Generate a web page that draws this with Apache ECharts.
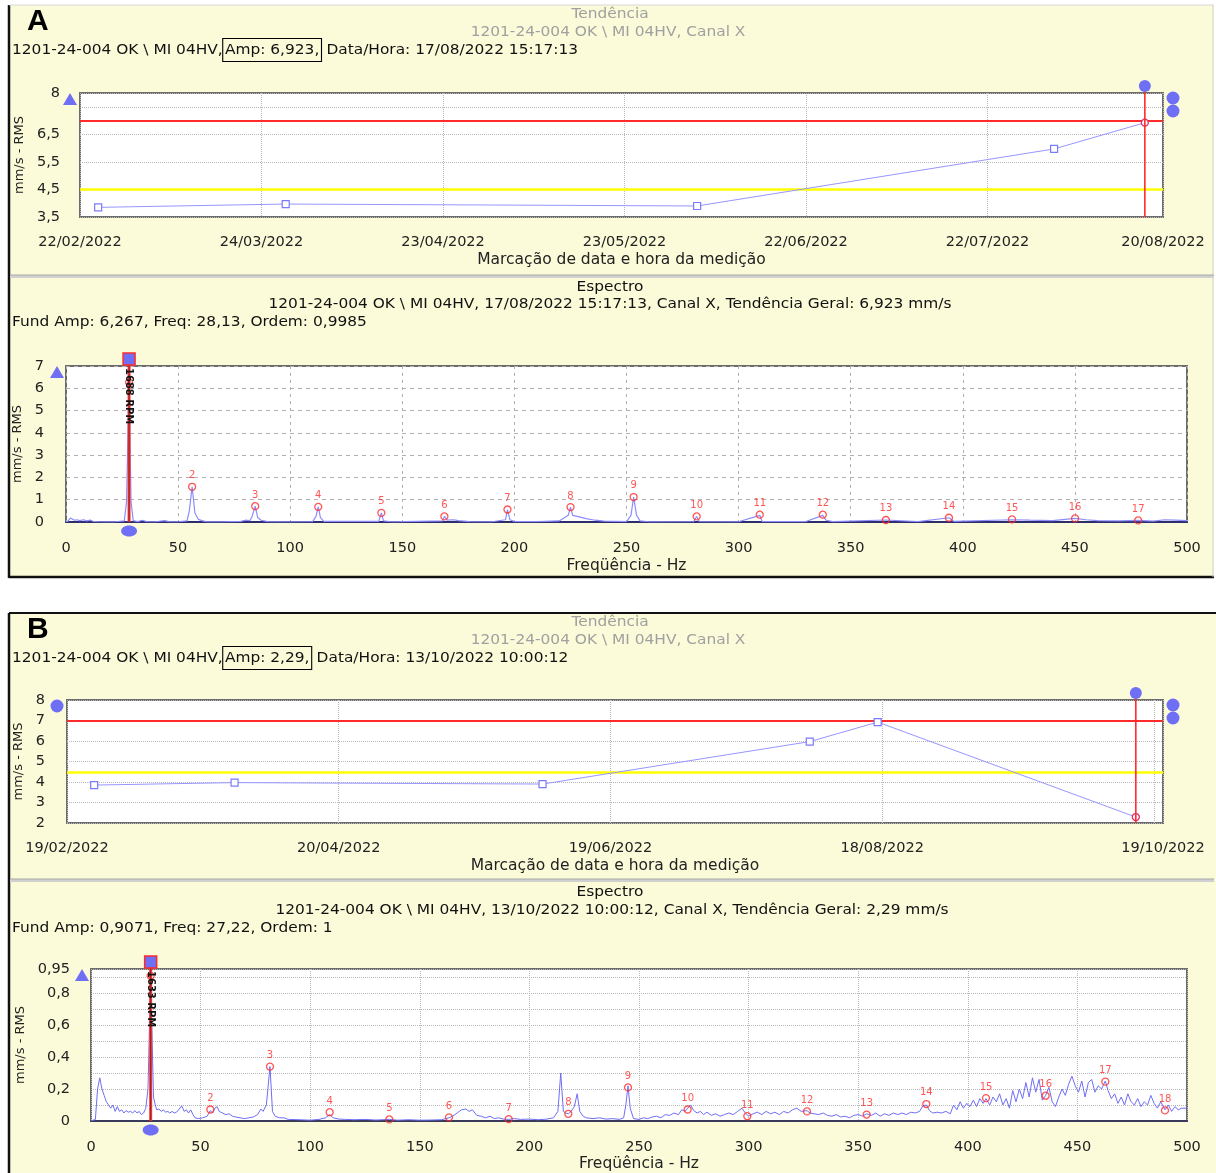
<!DOCTYPE html>
<html><head><meta charset="utf-8">
<script src="https://cdn.jsdelivr.net/npm/echarts@6/dist/echarts.min.js"></script>
<style>html,body{margin:0;padding:0;background:#fff}#main{width:1216px;height:1173px}</style>
</head><body><div id="main"></div><script>
// ================= DATA =================
const trendDates  = ['25/02/2022','28/03/2022','04/06/2022','02/08/2022','17/08/2022','13/10/2022'];
const trendValues = [3.85, 3.97, 3.90, 5.97, 6.923, 2.29];
const trendAxisA  = ['22/02/2022', '20/08/2022'];   // first / last date tick
const trendAxisB  = ['19/02/2022', '19/10/2022'];
const trendStepA  = 30;   // days between date ticks
const trendStepB  = 60;
const alarmLevel  = 7;
const alertLevel  = 4.5;

const fundFreqA = 28.13, fundAmpA = 6.267, rpmA = '1688 RPM';
const fundFreqB = 27.22, fundAmpB = 0.9071, rpmB = '1633 RPM';

const harmAFreq = [28.13,56.26,84.39,112.52,140.65,168.78,196.91,225.04,253.17,281.3,309.43,337.56,365.69,393.82,421.95,450.08,478.21];
const harmAAmp  = [6.267,1.58,0.71,0.68,0.41,0.25,0.56,0.67,1.12,0.25,0.33,0.33,0.09,0.19,0.12,0.16,0.07];

const harmBFreq = [27.22,54.44,81.66,108.88,136.1,163.32,190.54,217.76,244.98,272.2,299.42,326.64,353.86,381.08,408.3,435.52,462.74,489.96];
const harmBAmp  = [0.9071,0.072,0.34,0.055,0.01,0.023,0.012,0.045,0.21,0.072,0.03,0.06,0.04,0.106,0.143,0.158,0.246,0.066];

const specAFreq = [0,1,2,3,4,5,6,8,9,11,12,14,18,22,26,27,28.13,29,30,32,34,36,40,44,46,50,54,55,56.26,57.5,59,61,63,70,78,80,82,83,84.39,85.5,87,90,95,110,111.5,112.52,113.5,115,139.5,140.65,141.6,145,168,168.78,170,173,175,180,190,196,196.91,198,200,210,220,224,225.04,226,228,232,236,240,250,252,253.17,254.5,256,260,280,281.3,282.5,300,309.43,310.5,330,337.56,339,342,365.69,380,393.82,396,421.95,430,440,450.08,455,460,470,478.21,485,490,495,500];
const specAAmp  = [0,0.05,0.18,0.12,0.08,0.1,0.06,0.1,0.05,0.08,0.03,0.02,0.01,0.01,0.05,0.9,6.267,0.9,0.06,0.02,0.08,0.02,0.01,0.06,0.02,0.01,0.05,0.5,1.58,0.4,0.12,0.05,0.01,0.01,0.03,0.08,0.06,0.25,0.71,0.2,0.08,0.02,0.01,0.02,0.25,0.68,0.2,0.03,0.03,0.41,0.05,0.01,0.05,0.25,0.08,0.1,0.06,0.02,0.01,0.1,0.56,0.1,0.02,0.02,0.05,0.3,0.67,0.3,0.25,0.15,0.08,0.04,0.02,0.3,1.12,0.3,0.05,0.01,0.02,0.25,0.02,0.01,0.3,0.02,0.02,0.3,0.08,0.02,0.09,0.02,0.19,0.03,0.1,0.08,0.06,0.16,0.1,0.06,0.05,0.07,0.04,0.1,0.08,0.06];

const specBFreq = [0,2,3,4,5,6,7,8,9,10,11,12,13,14,15,16,17,18,19,20,21,22,23,24,25,26,27.22,28.5,29.5,30,31,32,33,34,35,36,37,38,39,40,41.4,42.5,43.5,44.5,45.5,46.5,47.5,49,51,53,54.44,55.5,56.5,57.5,58.5,60,61.5,63,64.5,66,68,70,72,74,76,77.5,78.5,80,81.66,82.8,84,86,88,90,95,100,104,107,108.88,110.5,113,116,120,125,130,136.1,140,145,150,155,160,163.32,165,167,169,171,172.5,174,176,178,180,182,184,186,188,190.54,193,196,200,204,208,211,213,214.3,215.5,216.5,217.76,219,220.5,221.8,223,224.5,226,229,232,235,238,241,243,244,244.98,246,247.5,250,252,254,256,258,260,262,264,266,268,269.5,271,272.2,273.5,275,276.5,278,279.5,281,283,285,287,289,291,293,295,297,298.5,300,302,304,306,308,310,312,314,316,318,320,322,324,326.64,328,330,332,334,336,338,340,342,344,346,348,350,352,353.86,356,358,360,362,364,366,368,370,372,374,376,378,379.5,381.08,382.5,384,386,388,390,392,393.5,395,396.5,398,399.5,401,402.5,404,405.5,407,408.3,410,411.5,413,414.5,416,417.5,419,420.5,422,423.5,425,426.5,428,429.5,431,432.5,434,435.52,437,438.5,440,441.5,443,444.5,446,447.5,449,450.5,452,453.5,455,456.5,458,459.5,461,462.74,464,465.5,467,468.5,470,471.5,473,474.5,476,477.5,479,480.5,482,483.5,485,486.5,488,489.96,491.5,493,494.5,496,497.5,500];
const specBAmp  = [0,0.01,0.2,0.27,0.2,0.16,0.12,0.1,0.08,0.1,0.06,0.09,0.06,0.07,0.05,0.065,0.055,0.06,0.05,0.065,0.05,0.06,0.04,0.05,0.08,0.2,0.9071,0.15,0.09,0.07,0.075,0.06,0.07,0.055,0.06,0.05,0.06,0.05,0.055,0.07,0.095,0.06,0.07,0.05,0.07,0.04,0.02,0.015,0.02,0.03,0.065,0.05,0.08,0.09,0.06,0.05,0.04,0.045,0.03,0.025,0.02,0.015,0.02,0.025,0.04,0.075,0.06,0.1,0.34,0.06,0.03,0.02,0.02,0.01,0.008,0.005,0.01,0.02,0.04,0.02,0.012,0.01,0.008,0.01,0.006,0.01,0.005,0.008,0.005,0.006,0.008,0.02,0.03,0.05,0.07,0.075,0.06,0.07,0.035,0.03,0.02,0.03,0.015,0.02,0.012,0.01,0.015,0.01,0.012,0.008,0.012,0.02,0.06,0.3,0.06,0.05,0.045,0.06,0.09,0.17,0.06,0.03,0.02,0.015,0.02,0.012,0.015,0.01,0.02,0.1,0.22,0.08,0.015,0.01,0.02,0.015,0.025,0.03,0.02,0.04,0.035,0.05,0.04,0.07,0.06,0.08,0.1,0.065,0.05,0.06,0.04,0.055,0.035,0.045,0.03,0.04,0.05,0.04,0.06,0.08,0.05,0.03,0.045,0.055,0.04,0.06,0.045,0.055,0.04,0.06,0.05,0.07,0.08,0.06,0.065,0.05,0.045,0.04,0.05,0.035,0.03,0.04,0.025,0.03,0.02,0.035,0.04,0.03,0.045,0.035,0.05,0.03,0.045,0.035,0.05,0.04,0.05,0.04,0.055,0.05,0.06,0.095,0.1,0.065,0.05,0.055,0.05,0.06,0.045,0.1,0.07,0.12,0.08,0.11,0.09,0.13,0.09,0.14,0.11,0.14,0.1,0.15,0.12,0.17,0.1,0.14,0.08,0.19,0.12,0.2,0.14,0.24,0.15,0.27,0.18,0.26,0.13,0.16,0.21,0.12,0.09,0.15,0.2,0.16,0.23,0.28,0.22,0.18,0.25,0.15,0.24,0.26,0.18,0.22,0.2,0.25,0.19,0.14,0.17,0.11,0.15,0.1,0.17,0.12,0.1,0.14,0.09,0.12,0.1,0.16,0.11,0.08,0.12,0.07,0.1,0.06,0.09,0.07,0.08,0.08];

// ================= HELPERS =================
const FONT = 'DejaVu Sans';
const toUTC = s => { const [d, m, y] = s.split('/').map(Number); return Date.UTC(y, m - 1, d); };
const dayOf = (s, b) => Math.round((toUTC(s) - toUTC(b)) / 86400000);
const pad = n => (n < 10 ? '0' : '') + n;
const dateLabel = (v, b) => { const t = new Date(toUTC(b) + v * 86400000); return pad(t.getUTCDate()) + '/' + pad(t.getUTCMonth() + 1) + '/' + t.getUTCFullYear(); };
const comma = v => String(v).replace('.', ',');
const pairs = (xs, ys) => xs.map((x, i) => [x, ys[i]]);

const nA = 5; // trend A shows the measurements up to 17/08/2022
const trendA = trendDates.slice(0, nA).map((d, i) => [dayOf(d, trendAxisA[0]), trendValues[i]]);
const trendB = trendDates.map((d, i) => [dayOf(d, trendAxisB[0]), trendValues[i]]);
const maxA = dayOf(trendAxisA[1], trendAxisA[0]);
const maxB = dayOf(trendAxisB[1], trendAxisB[0]);

const LINE_TREND = '#9696ff';
const LINE_SPEC = '#6e6ef6';
const RED = '#ff2b2b';
const labelStyle = { color: '#222', fontFamily: FONT, fontSize: 14.5 };
const nameStyle = { color: '#222', fontFamily: FONT, fontSize: 15.5 };

function trendPoint(p, i, last) {
  if (i === last) return { value: p, symbol: 'circle', symbolSize: 7, itemStyle: { color: '#fff', borderColor: '#e0306a', borderWidth: 1.3 } };
  return p;
}

const markLevels = {
  silent: true, symbol: 'none', label: { show: false }, animation: false,
  data: [
    { yAxis: alarmLevel, lineStyle: { color: RED, width: 2, type: 'solid' } },
    { yAxis: alertLevel, lineStyle: { color: '#ffff00', width: 2.5, type: 'solid' } }
  ]
};

const option = {
  animation: false,
  backgroundColor: '#ffffff',
  grid: [
    { left: 80, top: 93, width: 1083, height: 124, show: true, backgroundColor: '#fff', borderColor: '#6c6c6c', borderWidth: 2 },
    { left: 66, top: 366, width: 1121, height: 156, show: true, backgroundColor: '#fff', borderColor: '#6c6c6c', borderWidth: 2 },
    { left: 67, top: 700, width: 1096, height: 123, show: true, backgroundColor: '#fff', borderColor: '#6c6c6c', borderWidth: 2 },
    { left: 91, top: 969, width: 1096, height: 155, show: true, backgroundColor: '#fff', borderColor: '#6c6c6c', borderWidth: 2 }
  ],
  xAxis: [
    { gridIndex: 0, type: 'value', min: 0, max: maxA, interval: trendStepA,
      name: 'Marcação de data e hora da medição', nameLocation: 'middle', nameGap: 35, nameTextStyle: nameStyle,
      axisLine: { show: false }, axisTick: { show: false },
      axisLabel: Object.assign({ margin: 18, showMaxLabel: true, showMinLabel: true,
        formatter: v => (v < maxA && maxA - v < 15) ? '' : dateLabel(v, trendAxisA[0]) }, labelStyle),
      splitLine: { show: true, lineStyle: { color: '#b8b8b8', type: 'dotted', width: 1 } } },
    { gridIndex: 1, type: 'value', min: 0, max: 500, interval: 50,
      name: 'Freqüência - Hz', nameLocation: 'middle', nameGap: 36, nameTextStyle: nameStyle,
      axisLine: { show: true, onZero: false, lineStyle: { color: '#2e2e6e', width: 2 } }, axisTick: { show: false },
      axisLabel: Object.assign({ margin: 19 }, labelStyle),
      splitLine: { show: true, lineStyle: { color: '#b0b0b0', type: [3, 4], width: 1 } } },
    { gridIndex: 2, type: 'value', min: 0, max: maxB, interval: trendStepB,
      name: 'Marcação de data e hora da medição', nameLocation: 'middle', nameGap: 35, nameTextStyle: nameStyle,
      axisLine: { show: false }, axisTick: { show: false },
      axisLabel: Object.assign({ margin: 18, showMaxLabel: true, showMinLabel: true,
        formatter: v => (v < maxB && maxB - v < 20) ? '' : dateLabel(v, trendAxisB[0]) }, labelStyle),
      splitLine: { show: true, lineStyle: { color: '#b8b8b8', type: 'dotted', width: 1 } } },
    { gridIndex: 3, type: 'value', min: 0, max: 500, interval: 50,
      name: 'Freqüência - Hz', nameLocation: 'middle', nameGap: 35, nameTextStyle: nameStyle,
      axisLine: { show: true, onZero: false, lineStyle: { color: '#3a3a5a', width: 2 } }, axisTick: { show: false },
      axisLabel: Object.assign({ margin: 19 }, labelStyle),
      splitLine: { show: true, lineStyle: { color: '#b8b8b8', type: 'dotted', width: 1 } } }
  ],
  yAxis: [
    { gridIndex: 0, type: 'value', min: 3.5, max: 8, interval: 1,
      name: 'mm/s - RMS', nameLocation: 'middle', nameGap: 51, nameTextStyle: Object.assign({}, nameStyle, { fontSize: 13 }),
      axisLine: { show: false }, axisTick: { show: false },
      axisLabel: Object.assign({ margin: 20, showMaxLabel: true, formatter: v => (v < 8 && 8 - v < 0.6) ? '' : comma(v) }, labelStyle),
      splitLine: { show: true, lineStyle: { color: '#b8b8b8', type: 'dotted', width: 1 } } },
    { gridIndex: 1, type: 'value', min: 0, max: 7, interval: 1,
      name: 'mm/s - RMS', nameLocation: 'middle', nameGap: 37, nameTextStyle: Object.assign({}, nameStyle, { fontSize: 13 }),
      axisLine: { show: false }, axisTick: { show: false },
      axisLabel: Object.assign({ margin: 22, showMaxLabel: true }, labelStyle),
      splitLine: { show: true, lineStyle: { color: '#b0b0b0', type: [4, 4], width: 1 } } },
    { gridIndex: 2, type: 'value', min: 2, max: 8, interval: 1,
      name: 'mm/s - RMS', nameLocation: 'middle', nameGap: 37, nameTextStyle: Object.assign({}, nameStyle, { fontSize: 13 }),
      axisLine: { show: false }, axisTick: { show: false },
      axisLabel: Object.assign({ margin: 22, showMaxLabel: true }, labelStyle),
      splitLine: { show: true, lineStyle: { color: '#b8b8b8', type: 'dotted', width: 1 } } },
    { gridIndex: 3, type: 'value', min: 0, max: 0.95, interval: 0.1,
      name: 'mm/s - RMS', nameLocation: 'middle', nameGap: 60, nameTextStyle: Object.assign({}, nameStyle, { fontSize: 13 }),
      axisLine: { show: false }, axisTick: { show: false },
      axisLabel: Object.assign({ margin: 21, showMaxLabel: true,
        formatter: v => (v < 0.95 && Math.round(v * 10) % 2 === 1) ? '' : comma(+v.toFixed(2)) }, labelStyle),
      splitLine: { show: true, lineStyle: { color: '#b8b8b8', type: 'dotted', width: 1 } } }
  ],
  series: [
    { type: 'line', xAxisIndex: 0, yAxisIndex: 0, data: trendA.map((p, i) => trendPoint(p, i, trendA.length - 1)),
      symbol: 'rect', symbolSize: 7, showAllSymbol: true, z: 5,
      lineStyle: { color: LINE_TREND, width: 1 }, itemStyle: { color: '#fff', borderColor: '#7a7aff', borderWidth: 1.2 },
      markLine: markLevels },
    { type: 'line', xAxisIndex: 1, yAxisIndex: 1, data: pairs(specAFreq, specAAmp), symbol: 'none', z: 3,
      lineStyle: { color: '#8c8cff', width: 1.2 } },
    { type: 'scatter', xAxisIndex: 1, yAxisIndex: 1, data: pairs(harmAFreq, harmAAmp), symbol: 'circle', symbolSize: 7, z: 6,
      itemStyle: { color: 'rgba(255,255,255,0)', borderColor: RED, borderWidth: 1.3 },
      label: { show: true, position: 'top', distance: 2, color: RED, fontSize: 10, fontFamily: FONT,
        formatter: p => p.dataIndex === 0 ? '' : String(p.dataIndex + 1) } },
    { type: 'line', xAxisIndex: 2, yAxisIndex: 2, data: trendB.map((p, i) => trendPoint(p, i, trendB.length - 1)),
      symbol: 'rect', symbolSize: 7, showAllSymbol: true, z: 5,
      lineStyle: { color: LINE_TREND, width: 1 }, itemStyle: { color: '#fff', borderColor: '#7a7aff', borderWidth: 1.2 },
      markLine: markLevels },
    { type: 'line', xAxisIndex: 3, yAxisIndex: 3, data: pairs(specBFreq, specBAmp), symbol: 'none', z: 3,
      lineStyle: { color: LINE_SPEC, width: 1 } },
    { type: 'scatter', xAxisIndex: 3, yAxisIndex: 3, data: pairs(harmBFreq, harmBAmp), symbol: 'circle', symbolSize: 7, z: 6,
      itemStyle: { color: 'rgba(255,255,255,0)', borderColor: RED, borderWidth: 1.3 },
      label: { show: true, position: 'top', distance: 2, color: RED, fontSize: 10, fontFamily: FONT,
        formatter: p => p.dataIndex === 0 ? '' : String(p.dataIndex + 1) } }
  ]
};

const chart = echarts.init(document.getElementById('main'));
chart.setOption(option);

// ================= DECORATIONS (static layout) =================
const YEL = '#fbfbda';
const SX = 1.1; // the reference text is slightly wide
const g = [];
function panel(x, y, w, h, topDark) {
  g.push({ type: 'rect', z: -20, shape: { x, y, width: w, height: h }, style: { fill: YEL } });
  g.push({ type: 'line', z: -5, shape: { x1: x, y1: y, x2: x, y2: y + h }, style: { stroke: '#111', lineWidth: 2.5 } });
  g.push({ type: 'line', z: -5, shape: { x1: x, y1: y, x2: x + w, y2: y }, style: { stroke: topDark ? '#111' : '#d8d8d8', lineWidth: topDark ? 2 : 1 } });
}
panel(9, 5, 1205, 573, false);
g.push({ type: 'line', z: -5, shape: { x1: 9, y1: 577, x2: 1214, y2: 577 }, style: { stroke: '#111', lineWidth: 2.5 } });
g.push({ type: 'line', z: -5, shape: { x1: 1213, y1: 5, x2: 1213, y2: 577 }, style: { stroke: '#cfcfcf', lineWidth: 1 } });
panel(9, 613, 1207, 560, true);
// section separators
[276, 880].forEach(y => {
  g.push({ type: 'rect', z: -4, shape: { x: 10, y: y - 1, width: 1204, height: 3 }, style: { fill: '#d0d0d0' } });
  g.push({ type: 'line', z: -4, shape: { x1: 10, y1: y - 1, x2: 1214, y2: y - 1 }, style: { stroke: '#a8a8a8', lineWidth: 1 } });
});

function txt(text, x, y, opt, sx) {
  g.push({ type: 'text', z: 50, x, y, scaleX: sx || SX, style: Object.assign({ text, fill: '#111', font: '14px "' + FONT + '"', textAlign: 'left', textVerticalAlign: 'middle' }, opt || {}) });
}
function header(letter, dy, amp, when) {
  txt(letter, 27, 22 + dy, { font: 'bold 30px "Liberation Sans"', fill: '#000' }, 1);
  txt('Tendência', 610, 14 + dy, { textAlign: 'center', fill: '#a0a0a0', font: '14px "' + FONT + '"' });
  txt('1201-24-004 OK \\ MI 04HV, Canal X', 608, 32 + dy, { textAlign: 'center', fill: '#a0a0a0' });
  g.push({ type: 'text', z: 50, x: 12, y: 50 + dy, scaleX: SX, style: {
    text: '1201-24-004 OK \\ MI 04HV,{box|Amp: ' + amp + ',} Data/Hora: ' + when,
    fill: '#111', font: '14px "' + FONT + '"', textAlign: 'left', textVerticalAlign: 'middle',
    rich: { box: { borderColor: '#000', borderWidth: 1, padding: [5, 2, 4, 2], fill: '#111', font: '14px "' + FONT + '"' } } } });
}
header('A', 0, '6,923', '17/08/2022 15:17:13');
header('B', 608, '2,29', '13/10/2022 10:00:12');
txt('Espectro', 610, 287, { textAlign: 'center' });
txt('1201-24-004 OK \\ MI 04HV, 17/08/2022 15:17:13, Canal X, Tendência Geral: 6,923 mm/s', 610, 304, { textAlign: 'center' });
txt('Fund Amp: 6,267, Freq: 28,13, Ordem: 0,9985', 12, 322);
txt('Espectro', 610, 892, { textAlign: 'center' });
txt('1201-24-004 OK \\ MI 04HV, 13/10/2022 10:00:12, Canal X, Tendência Geral: 2,29 mm/s', 612, 910, { textAlign: 'center' });
txt('Fund Amp: 0,9071, Freq: 27,22, Ordem: 1', 12, 928);

// ================= DECORATIONS (anchored through the axes) =================
const BLUE = '#6f6ff5';
const P = (gi, x, y) => chart.convertToPixel({ gridIndex: gi }, [x, y]);
function triangle(cx, cy) {
  g.push({ type: 'polygon', z: 40, shape: { points: [[cx - 7, cy + 6], [cx + 7, cy + 6], [cx, cy - 6]] }, style: { fill: BLUE } });
}
function dot(cx, cy, r) { g.push({ type: 'circle', z: 40, shape: { cx, cy, r: r || 6 }, style: { fill: BLUE } }); }

function trendDeco(gi, ymin, ymax, xmax, cursorX, leftMark) {
  const [x0, top] = P(gi, 0, ymax);
  const [x1, bot] = P(gi, xmax, ymin);
  const cx = P(gi, cursorX, ymax)[0];
  g.push({ type: 'line', z: 30, shape: { x1: cx, y1: top - 7, x2: cx, y2: bot }, style: { stroke: RED, lineWidth: 1.6 } });
  dot(cx, top - 7, 6);
  dot(x1 + 10, top + 5, 6.5); dot(x1 + 10, top + 18, 6.5);
  if (leftMark === 'tri') triangle(x0 - 10, top + 6); else dot(x0 - 10, top + 6, 6.5);
}
trendDeco(0, 3.5, 8, maxA, trendA[trendA.length - 1][0], 'tri');
trendDeco(2, 2, 8, maxB, trendB[trendB.length - 1][0], 'dot');

function specDeco(gi, ymax, freq, rpm) {
  const [x0, top] = P(gi, 0, ymax);
  const bot = P(gi, 0, 0)[1];
  const cx = P(gi, freq, 0)[0];
  g.push({ type: 'line', z: 30, shape: { x1: cx, y1: top - 6, x2: cx, y2: bot }, style: { stroke: '#f04040', lineWidth: 3 } });
  g.push({ type: 'line', z: 31, shape: { x1: cx, y1: top - 6, x2: cx, y2: bot }, style: { stroke: '#a01818', lineWidth: 1 } });
  g.push({ type: 'rect', z: 41, shape: { x: cx - 6, y: top - 13, width: 12, height: 12 }, style: { fill: BLUE, stroke: RED, lineWidth: 1.5 } });
  g.push({ type: 'ellipse', z: 41, shape: { cx: cx, cy: bot + 9, rx: 8, ry: 5.5 }, style: { fill: BLUE } });
  triangle(x0 - 9, top + 6);
  g.push({ type: 'text', z: 45, x: cx, y: top + 2, rotation: -Math.PI / 2,
    style: { text: rpm, fill: '#111', font: 'bold 10px "' + FONT + '"', textAlign: 'left', textVerticalAlign: 'middle' } });
}
specDeco(1, 7, fundFreqA, rpmA);
specDeco(3, 0.95, fundFreqB, rpmB);

chart.setOption({ graphic: { elements: g } });
</script></body></html>
